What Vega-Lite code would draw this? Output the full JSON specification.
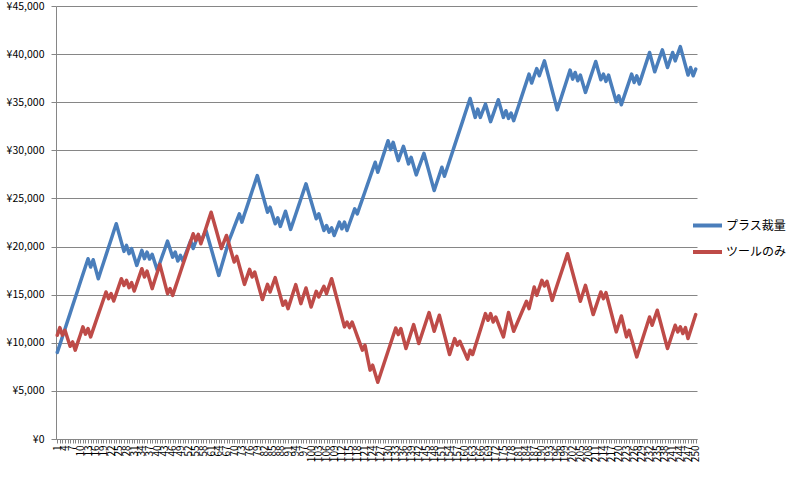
{
  "$schema": "https://vega.github.io/schema/vega-lite/v6.json",
  "width": 641,
  "height": 433,
  "autosize": "none",
  "padding": {"left": 56, "top": 6, "right": 98, "bottom": 42},
  "background": "white",
  "config": {
    "font": "Noto Sans CJK JP",
    "view": {"stroke": null},
    "axis": {"labelColor": "#000000", "domainColor": "#868686", "tickColor": "#868686", "gridColor": "#868686", "labelFont": "Noto Sans CJK JP"}
  },
  "data": {"values": [
{"n":1,"プラス裁量":9000,"ツールのみ":10790},{"n":2,"プラス裁量":9810,"ツールのみ":11580},{"n":3,"プラス裁量":10620,"ツールのみ":10790},{"n":4,"プラス裁量":11440,"ツールのみ":11300},{"n":5,"プラス裁量":12250,"ツールのみ":10470},
{"n":6,"プラス裁量":13060,"ツールのみ":9640},{"n":7,"プラス裁量":13870,"ツールのみ":10090},{"n":8,"プラス裁量":14680,"ツールのみ":9230},{"n":9,"プラス裁量":15490,"ツールのみ":10040},{"n":10,"プラス裁量":16310,"ツールのみ":10840},
{"n":11,"プラス裁量":17120,"ツールのみ":11650},{"n":12,"プラス裁量":17930,"ツールのみ":10890},{"n":13,"プラス裁量":18740,"ツールのみ":11480},{"n":14,"プラス裁量":17870,"ツールのみ":10610},{"n":15,"プラス裁量":18630,"ツールのみ":11390},
{"n":16,"プラス裁量":17650,"ツールのみ":12170},{"n":17,"プラス裁量":16660,"ツールのみ":12950},{"n":18,"プラス裁量":17480,"ツールのみ":13720},{"n":19,"プラス裁量":18290,"ツールのみ":14500},{"n":20,"プラス裁量":19110,"ツールのみ":15280},
{"n":21,"プラス裁量":19920,"ツールのみ":14590},{"n":22,"プラス裁量":20740,"ツールのみ":15110},{"n":23,"プラス裁量":21560,"ツールのみ":14340},{"n":24,"プラス裁量":22370,"ツールのみ":15110},{"n":25,"プラス裁量":21410,"ツールのみ":15890},
{"n":26,"プラス裁量":20460,"ツールのみ":16660},{"n":27,"プラス裁量":19500,"ツールのみ":15970},{"n":28,"プラス裁量":20120,"ツールのみ":16490},{"n":29,"プラス裁量":19260,"ツールのみ":15730},{"n":30,"プラス裁量":19780,"ツールのみ":16250},
{"n":31,"プラス裁量":18910,"ツールのみ":15380},{"n":32,"プラス裁量":18040,"ツールのみ":16150},{"n":33,"プラス裁量":18820,"ツールのみ":16930},{"n":34,"プラス裁量":19600,"ツールのみ":17700},{"n":35,"プラス裁量":18740,"ツールのみ":16830},
{"n":36,"プラス裁量":19430,"ツールのみ":17450},{"n":37,"プラス裁量":18700,"ツールのみ":16540},{"n":38,"プラス裁量":19200,"ツールのみ":15630},{"n":39,"プラス裁量":18370,"ツールのみ":16470},{"n":40,"プラス裁量":17530,"ツールのみ":17310},
{"n":41,"プラス裁量":18290,"ツールのみ":18150},{"n":42,"プラス裁量":19050,"ツールのみ":17140},{"n":43,"プラス裁量":19800,"ツールのみ":16120},{"n":44,"プラス裁量":20560,"ツールのみ":15110},{"n":45,"プラス裁量":19730,"ツールのみ":15630},
{"n":46,"プラス裁量":18900,"ツールのみ":14930},{"n":47,"プラス裁量":19430,"ツールのみ":15730},{"n":48,"プラス裁量":18490,"ツールのみ":16530},{"n":49,"プラス裁量":19080,"ツールのみ":17330},{"n":50,"プラス裁量":18490,"ツールのみ":18130},
{"n":51,"プラス裁量":19200,"ツールのみ":18930},{"n":52,"プラス裁量":19900,"ツールのみ":19730},{"n":53,"プラス裁量":20600,"ツールのみ":20530},{"n":54,"プラス裁量":19800,"ツールのみ":21330},{"n":55,"プラス裁量":20500,"ツールのみ":20640},
{"n":56,"プラス裁量":21200,"ツールのみ":21260},{"n":57,"プラス裁量":20500,"ツールのみ":20290},{"n":58,"プラス裁量":21100,"ツールのみ":21110},{"n":59,"プラス裁量":21670,"ツールのみ":21930},{"n":60,"プラス裁量":20740,"ツールのみ":22750},
{"n":61,"プラス裁量":19800,"ツールのみ":23570},{"n":62,"プラス裁量":18870,"ツールのみ":22630},{"n":63,"プラス裁量":17930,"ツールのみ":21690},{"n":64,"プラス裁量":17000,"ツールのみ":20740},{"n":65,"プラス裁量":17910,"ツールのみ":19800},
{"n":66,"プラス裁量":18820,"ツールのみ":20480},{"n":67,"プラス裁量":19730,"ツールのみ":21150},{"n":68,"プラス裁量":20640,"ツールのみ":20230},{"n":69,"プラス裁量":21330,"ツールのみ":19310},{"n":70,"プラス裁量":22020,"ツールのみ":18390},
{"n":71,"プラス裁量":22710,"ツールのみ":18980},{"n":72,"プラス裁量":23400,"ツールのみ":18010},{"n":73,"プラス裁量":22540,"ツールのみ":17040},{"n":74,"プラス裁量":23350,"ツールのみ":16070},{"n":75,"プラス裁量":24150,"ツールのみ":16850},
{"n":76,"プラス裁量":24960,"ツールのみ":17630},{"n":77,"プラス裁量":25770,"ツールのみ":16830},{"n":78,"プラス裁量":26570,"ツールのみ":17350},{"n":79,"プラス裁量":27380,"ツールのみ":16400},{"n":80,"プラス裁量":26430,"ツールのみ":15440},
{"n":81,"プラス裁量":25480,"ツールのみ":14490},{"n":82,"プラス裁量":24520,"ツールのみ":15280},{"n":83,"プラス裁量":23570,"ツールのみ":16070},{"n":84,"プラス裁量":24090,"ツールのみ":15280},{"n":85,"プラス裁量":23230,"ツールのみ":16030},
{"n":86,"プラス裁量":22370,"ツールのみ":16770},{"n":87,"プラス裁量":22990,"ツールのみ":15810},{"n":88,"プラス裁量":22090,"ツールのみ":14860},{"n":89,"プラス裁量":22880,"ツールのみ":13900},{"n":90,"プラス裁量":23670,"ツールのみ":14340},
{"n":91,"プラス裁量":22730,"ツールのみ":13550},{"n":92,"プラス裁量":21780,"ツールのみ":14380},{"n":93,"プラス裁量":22570,"ツールのみ":15210},{"n":94,"プラス裁量":23360,"ツールのみ":16040},{"n":95,"プラス裁量":24150,"ツールのみ":15060},
{"n":96,"プラス裁量":24940,"ツールのみ":14070},{"n":97,"プラス裁量":25730,"ツールのみ":14880},{"n":98,"プラス裁量":26520,"ツールのみ":15690},{"n":99,"プラス裁量":25610,"ツールのみ":14710},{"n":100,"プラス裁量":24710,"ツールのみ":13720},
{"n":101,"プラス裁量":23800,"ツールのみ":14540},{"n":102,"プラス裁量":22890,"ツールのみ":15350},{"n":103,"プラス裁量":23400,"ツールのみ":14760},{"n":104,"プラス裁量":22540,"ツールのみ":15320},{"n":105,"プラス裁量":21670,"ツールのみ":15870},
{"n":106,"プラス裁量":22190,"ツールのみ":15110},{"n":107,"プラス裁量":21500,"ツールのみ":15890},{"n":108,"プラス裁量":21950,"ツールのみ":16660},{"n":109,"プラス裁量":21150,"ツールのみ":15660},{"n":110,"プラス裁量":21850,"ツールのみ":14660},
{"n":111,"プラス裁量":22540,"ツールのみ":13650},{"n":112,"プラス裁量":21850,"ツールのみ":12650},{"n":113,"プラス裁量":22540,"ツールのみ":11650},{"n":114,"プラス裁量":21670,"ツールのみ":12160},{"n":115,"プラス裁量":22420,"ツールのみ":11580},
{"n":116,"プラス裁量":23170,"ツールのみ":12160},{"n":117,"プラス裁量":23920,"ツールのみ":11430},{"n":118,"プラス裁量":23400,"ツールのみ":10690},{"n":119,"プラス裁量":24170,"ツールのみ":9960},{"n":120,"プラス裁量":24930,"ツールのみ":9230},
{"n":121,"プラス裁量":25700,"ツールのみ":9750},{"n":122,"プラス裁量":26460,"ツールのみ":8460},{"n":123,"プラス裁量":27230,"ツールのみ":7160},{"n":124,"プラス裁量":27990,"ツールのみ":7670},{"n":125,"プラス裁量":28760,"ツールのみ":6790},
{"n":126,"プラス裁量":27720,"ツールのみ":5900},{"n":127,"プラス裁量":28540,"ツールのみ":6710},{"n":128,"プラス裁量":29360,"ツールのみ":7510},{"n":129,"プラス裁量":30180,"ツールのみ":8320},{"n":130,"プラス裁量":31000,"ツールのみ":9120},
{"n":131,"プラス裁量":30070,"ツールのみ":9930},{"n":132,"プラス裁量":30830,"ツールのみ":10730},{"n":133,"プラス裁量":29880,"ツールのみ":11540},{"n":134,"プラス裁量":28930,"ツールのみ":10860},{"n":135,"プラス裁量":29680,"ツールのみ":11480},
{"n":136,"プラス裁量":30420,"ツールのみ":10440},{"n":137,"プラス裁量":29510,"ツールのみ":9400},{"n":138,"プラス裁量":28590,"ツールのみ":10230},{"n":139,"プラス裁量":29280,"ツールのみ":11060},{"n":140,"プラス裁量":28370,"ツールのみ":11890},
{"n":141,"プラス裁量":27450,"ツールのみ":10910},{"n":142,"プラス裁量":28200,"ツールのみ":9920},{"n":143,"プラス裁量":28940,"ツールのみ":10730},{"n":144,"プラス裁量":29690,"ツールのみ":11530},{"n":145,"プラス裁量":28720,"ツールのみ":12340},
{"n":146,"プラス裁量":27760,"ツールのみ":13140},{"n":147,"プラス裁量":26790,"ツールのみ":12170},{"n":148,"プラス裁量":25820,"ツールのみ":11200},{"n":149,"プラス裁量":26630,"ツールのみ":12030},{"n":150,"プラス裁量":27430,"ツールのみ":12860},
{"n":151,"プラス裁量":28240,"ツールのみ":11840},{"n":152,"プラス裁量":27300,"ツールのみ":10820},{"n":153,"プラス裁量":28110,"ツールのみ":9800},{"n":154,"プラス裁量":28920,"ツールのみ":8780},{"n":155,"プラス裁量":29730,"ツールのみ":9610},
{"n":156,"プラス裁量":30540,"ツールのみ":10440},{"n":157,"プラス裁量":31350,"ツールのみ":9750},{"n":158,"プラス裁量":32150,"ツールのみ":10160},{"n":159,"プラス裁量":32960,"ツールのみ":9540},{"n":160,"プラス裁量":33770,"ツールのみ":8920},
{"n":161,"プラス裁量":34580,"ツールのみ":8300},{"n":162,"プラス裁量":35390,"ツールのみ":9230},{"n":163,"プラス裁量":34400,"ツールのみ":8780},{"n":164,"プラス裁量":33420,"ツールのみ":9630},{"n":165,"プラス裁量":34290,"ツールのみ":10480},
{"n":166,"プラス裁量":33420,"ツールのみ":11330},{"n":167,"プラス裁量":34120,"ツールのみ":12180},{"n":168,"プラス裁量":34810,"ツールのみ":13030},{"n":169,"プラス裁量":33900,"ツールのみ":12340},{"n":170,"プラス裁量":32980,"ツールのみ":13030},
{"n":171,"プラス裁量":33740,"ツールのみ":12160},{"n":172,"プラス裁量":34500,"ツールのみ":12680},{"n":173,"プラス裁量":35260,"ツールのみ":11990},{"n":174,"プラス裁量":34340,"ツールのみ":11300},{"n":175,"プラス裁量":33420,"ツールのみ":10610},
{"n":176,"プラス裁量":34120,"ツールのみ":11880},{"n":177,"プラス裁量":33320,"ツールのみ":13140},{"n":178,"プラス裁量":33880,"ツールのみ":12170},{"n":179,"プラス裁量":33080,"ツールのみ":11200},{"n":180,"プラス裁量":33890,"ツールのみ":11820},
{"n":181,"プラス裁量":34690,"ツールのみ":12440},{"n":182,"プラス裁量":35500,"ツールのみ":13070},{"n":183,"プラス裁量":36310,"ツールのみ":13690},{"n":184,"プラス裁量":37110,"ツールのみ":14310},{"n":185,"プラス裁量":37920,"ツールのみ":13550},
{"n":186,"プラス裁量":36990,"ツールのみ":14670},{"n":187,"プラス裁量":37750,"ツールのみ":15790},{"n":188,"プラス裁量":38500,"ツールのみ":14930},{"n":189,"プラス裁量":37750,"ツールのみ":15710},{"n":190,"プラス裁量":38530,"ツールのみ":16490},
{"n":191,"プラス裁量":39300,"ツールのみ":15900},{"n":192,"プラス裁量":38280,"ツールのみ":16380},{"n":193,"プラス裁量":37270,"ツールのみ":15400},{"n":194,"プラス裁量":36250,"ツールのみ":14410},{"n":195,"プラス裁量":35240,"ツールのみ":15220},
{"n":196,"プラス裁量":34220,"ツールのみ":16030},{"n":197,"プラス裁量":35040,"ツールのみ":16830},{"n":198,"プラス裁量":35870,"ツールのみ":17640},{"n":199,"プラス裁量":36690,"ツールのみ":18450},{"n":200,"プラス裁量":37520,"ツールのみ":19260},
{"n":201,"プラス裁量":38340,"ツールのみ":18270},{"n":202,"プラス裁量":37400,"ツールのみ":17280},{"n":203,"プラス裁量":38090,"ツールのみ":16290},{"n":204,"プラス裁量":37230,"ツールのみ":15300},{"n":205,"プラス裁量":37820,"ツールのみ":14310},
{"n":206,"プラス裁量":36920,"ツールのみ":15140},{"n":207,"プラス裁量":36020,"ツールのみ":15970},{"n":208,"プラス裁量":36820,"ツールのみ":14960},{"n":209,"プラス裁量":37630,"ツールのみ":13940},{"n":210,"プラス裁量":38430,"ツールのみ":12930},
{"n":211,"プラス裁量":39230,"ツールのみ":13710},{"n":212,"プラス裁量":38280,"ツールのみ":14500},{"n":213,"プラス裁量":37330,"ツールのみ":15280},{"n":214,"プラス裁量":37920,"ツールのみ":14590},{"n":215,"プラス裁量":37160,"ツールのみ":15210},
{"n":216,"プラス裁量":37820,"ツールのみ":14190},{"n":217,"プラス裁量":36900,"ツールのみ":13170},{"n":218,"プラス裁量":35970,"ツールのみ":12150},{"n":219,"プラス裁量":35050,"ツールのみ":11130},{"n":220,"プラス裁量":35670,"ツールのみ":11960},
{"n":221,"プラス裁量":34740,"ツールのみ":12790},{"n":222,"プラス裁量":35540,"ツールのみ":11700},{"n":223,"プラス裁量":36330,"ツールのみ":10610},{"n":224,"プラス裁量":37130,"ツールのみ":11300},{"n":225,"プラス裁量":37920,"ツールのみ":10380},
{"n":226,"プラス裁量":37050,"ツールのみ":9450},{"n":227,"プラス裁量":37750,"ツールのみ":8530},{"n":228,"プラス裁量":36890,"ツールのみ":9360},{"n":229,"プラス裁量":37710,"ツールのみ":10190},{"n":230,"プラス裁量":38530,"ツールのみ":11020},
{"n":231,"プラス裁量":39350,"ツールのみ":11850},{"n":232,"プラス裁量":40170,"ツールのみ":12680},{"n":233,"プラス裁量":39170,"ツールのみ":11820},{"n":234,"プラス裁量":38160,"ツールのみ":12600},{"n":235,"プラス裁量":38920,"ツールのみ":13380},
{"n":236,"プラス裁量":39680,"ツールのみ":12390},{"n":237,"プラス裁量":40440,"ツールのみ":11390},{"n":238,"プラス裁量":39530,"ツールのみ":10400},{"n":239,"プラス裁量":38610,"ツールのみ":9400},{"n":240,"プラス裁量":39390,"ツールのみ":10210},
{"n":241,"プラス裁量":40170,"ツールのみ":11010},{"n":242,"プラス裁量":39300,"ツールのみ":11820},{"n":243,"プラス裁量":40040,"ツールのみ":11130},{"n":244,"プラス裁量":40780,"ツールのみ":11650},{"n":245,"プラス裁量":39790,"ツールのみ":10960},
{"n":246,"プラス裁量":38810,"ツールのみ":11580},{"n":247,"プラス裁量":37820,"ツールのみ":10440},{"n":248,"プラス裁量":38610,"ツールのみ":11270},{"n":249,"プラス裁量":37750,"ツールのみ":12100},{"n":250,"プラス裁量":38440,"ツールのみ":12930}
  ]},
  "transform": [{"fold": ["プラス裁量", "ツールのみ"], "as": ["series", "value"]}],
  "mark": {"type": "line", "strokeWidth": 3.5, "strokeJoin": "round", "strokeCap": "round"},
  "encoding": {
    "x": {
      "field": "n", "type": "ordinal",
      "scale": {"type": "point", "padding": 0.5},
      "axis": {
        "title": null, "labelAngle": -90, "labelFontSize": 10, "labelOverlap": false,
        "labelExpr": "(datum.value - 1) % 3 == 0 ? datum.value : ''",
        "tickSize": 4, "labelPadding": 2, "grid": false, "domainColor": "#868686", "labelBaseline": "middle", "labelAlign": "right"
      }
    },
    "y": {
      "field": "value", "type": "quantitative",
      "scale": {"domain": [0, 45000], "nice": false},
      "axis": {
        "title": null, "values": [0,5000,10000,15000,20000,25000,30000,35000,40000,45000],
        "labelExpr": "'¥' + format(datum.value, ',')", "labelFontSize": 10.5,
        "tickSize": 5, "labelPadding": 7, "grid": true, "gridColor": "#868686", "domainColor": "#868686"
      }
    },
    "color": {
      "field": "series", "type": "nominal",
      "scale": {"domain": ["プラス裁量", "ツールのみ"], "range": ["#4A7EBB", "#BE4B48"]},
      "legend": {
        "title": null, "orient": "none", "legendX": 635, "legendY": 203,
        "symbolType": "stroke", "symbolSize": 841, "symbolStrokeWidth": 4,
        "labelFontSize": 12, "labelOffset": 2, "rowPadding": 1.5
      }
    }
  }
}
